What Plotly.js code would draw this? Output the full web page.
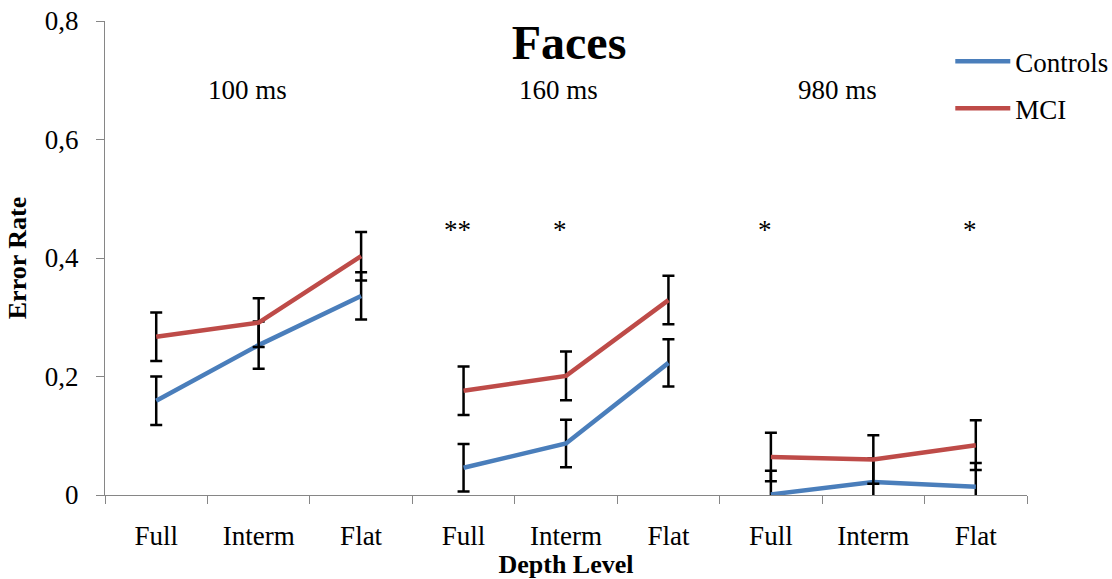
<!DOCTYPE html>
<html><head><meta charset="utf-8">
<script src="https://cdn.plot.ly/plotly-3.0.1.min.js"></script>
<style>html,body{margin:0;padding:0;background:#fff}#chart{width:1112px;height:579px}</style>
</head><body><div id="chart"></div>
<script>
const groups = ['100 ms', '160 ms', '980 ms'];
const categories = ['Full', 'Interm', 'Flat', 'Full', 'Interm', 'Flat', 'Full', 'Interm', 'Flat'];
const controls = [0.159, 0.253, 0.336, 0.046, 0.087, 0.223, 0.001, 0.022, 0.014];
const controlsErr = [0.041, 0.040, 0.040, 0.040, 0.040, 0.040, 0.040, 0.040, 0.040];
const mci = [0.267, 0.291, 0.403, 0.176, 0.201, 0.329, 0.064, 0.060, 0.084];
const mciErr = [0.041, 0.041, 0.041, 0.041, 0.041, 0.041, 0.041, 0.041, 0.042];
const stars = ['', '', '', '**', '*', '', '*', '', '*'];
const yTickVals = [0, 0.2, 0.4, 0.6, 0.8];
const yTickText = ['0', '0,2', '0,4', '0,6', '0,8'];

const FONT = 'Liberation Serif, Times New Roman, serif';
const series = [
  {name: 'Controls', values: controls, err: controlsErr, color: '#4A7EBB'},
  {name: 'MCI', values: mci, err: mciErr, color: '#BE4B48'}
];
const idx = categories.map((_, i) => i);
const boundaries = idx.concat([categories.length]).map(i => i - 0.5);

const traces = [];
series.forEach(s => {
  groups.forEach((g, gi) => {
    const xs = idx.slice(gi * 3, gi * 3 + 3);
    traces.push({
      type: 'scatter', mode: 'lines', name: s.name, legendgroup: s.name,
      showlegend: gi === 0,
      x: xs, y: xs.map(i => s.values[i]),
      line: {color: s.color, width: 4.5},
      error_y: {type: 'data', array: xs.map(i => s.err[i]), visible: true, color: '#000', thickness: 2.5, width: 6},
      hoverinfo: 'skip'
    });
  });
});
traces.push({type: 'scatter', mode: 'lines', x: [null], y: [null], xaxis: 'x2', showlegend: false, hoverinfo: 'skip'});

const groupLabelX = [0.155, 0.4915, 0.794];
const annotations = [];
groups.forEach((g, gi) => {
  annotations.push({text: g, xref: 'paper', yref: 'y', x: groupLabelX[gi], y: 0.684, showarrow: false,
    xanchor: 'center', yanchor: 'middle', font: {family: FONT, size: 27, color: '#000'}});
});
stars.forEach((s, i) => {
  if (!s) return;
  annotations.push({text: s, xref: 'x', yref: 'y', x: i - 0.06, y: 0.447, showarrow: false,
    xanchor: 'center', yanchor: 'middle', font: {family: FONT, size: 27, color: '#000'}});
});

const layout = {
  width: 1112, height: 579,
  margin: {l: 105, r: 85, t: 21, b: 84, autoexpand: false},
  paper_bgcolor: '#fff', plot_bgcolor: '#fff',
  font: {family: FONT, color: '#000', size: 27},
  title: {text: 'Faces', font: {family: FONT, size: 48, color: '#000', weight: 'bold'},
    x: 0.5117, xanchor: 'center', xref: 'container', y: 0.927, yref: 'container', yanchor: 'middle'},
  xaxis: {range: [-0.5, 8.5], tickmode: 'array', tickvals: idx, ticktext: categories, ticks: '',
    showline: true, linecolor: '#868686', linewidth: 1, showgrid: false, zeroline: false,
    tickfont: {family: FONT, size: 27, color: '#000'}, ticklabelstandoff: 17,
    title: {text: 'Depth Level', font: {family: FONT, size: 26, color: '#000', weight: 'bold'}, standoff: 2}},
  xaxis2: {overlaying: 'x', anchor: 'y', range: [-0.5, 8.5], tickmode: 'array', tickvals: boundaries,
    ticks: 'outside', ticklen: 8, tickcolor: '#868686', tickwidth: 1, showticklabels: false,
    showgrid: false, zeroline: false, showline: false},
  yaxis: {range: [0, 0.8], tickmode: 'array', tickvals: yTickVals, ticktext: yTickText, ticks: 'outside',
    ticklen: 8, tickcolor: '#868686', tickwidth: 1, showline: true, linecolor: '#868686', linewidth: 1,
    showgrid: false, zeroline: false, ticklabelstandoff: 12,
    tickfont: {family: FONT, size: 27, color: '#000'},
    title: {text: 'Error Rate', font: {family: FONT, size: 26, color: '#000', weight: 'bold'}, standoff: 10}},
  legend: {x: 0.9168, y: 0.966, xanchor: 'left', yanchor: 'top', xref: 'paper', yref: 'paper',
    font: {family: FONT, size: 27, color: '#000'}, itemwidth: 55, tracegroupgap: 9,
    bgcolor: 'rgba(0,0,0,0)', borderwidth: 0},
  showlegend: true,
  annotations: annotations
};

Plotly.newPlot('chart', traces, layout, {displayModeBar: false, staticPlot: true});
</script>
</body></html>
